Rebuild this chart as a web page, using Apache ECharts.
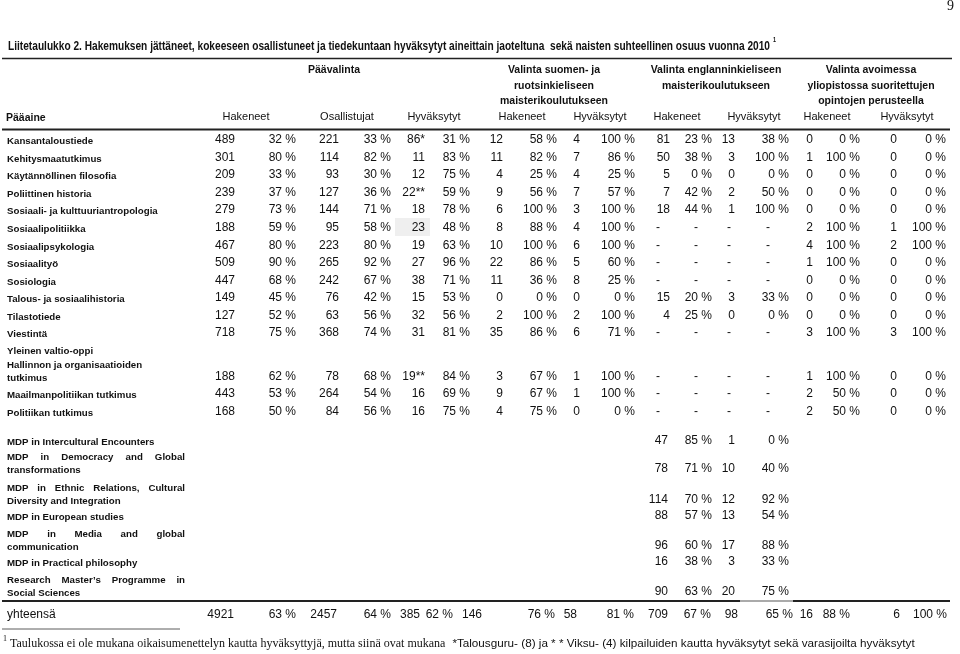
<!DOCTYPE html>
<html><head><meta charset="utf-8">
<script src="https://cdn.jsdelivr.net/npm/echarts/dist/echarts.min.js"></script>
<style>html,body{margin:0;padding:0;background:#fff}#c{width:960px;height:654px}</style>
</head><body><div id="c"></div>
<script>
// ---------------- DATA ----------------
const pageNumber = '9';
const titleText = 'Liitetaulukko 2. Hakemuksen jättäneet, kokeeseen osallistuneet ja tiedekuntaan hyväksytyt aineittain jaoteltuna  sekä naisten suhteellinen osuus vuonna 2010';
const groupHeaders = [['Päävalinta'], ['Valinta suomen- ja', 'ruotsinkieliseen', 'maisterikoulutukseen'], ['Valinta englanninkieliseen', 'maisterikoulutukseen'], ['Valinta avoimessa', 'yliopistossa suoritettujen', 'opintojen perusteella']];
const firstColHeader = 'Pääaine';
const colHeaders = ['Hakeneet', 'Osallistujat', 'Hyväksytyt', 'Hakeneet', 'Hyväksytyt', 'Hakeneet', 'Hyväksytyt', 'Hakeneet', 'Hyväksytyt'];

const subjects = ['Kansantaloustiede', 'Kehitysmaatutkimus', 'Käytännöllinen filosofia', 'Poliittinen historia', 'Sosiaali- ja kulttuuriantropologia', 'Sosiaalipolitiikka', 'Sosiaalipsykologia', 'Sosiaalityö', 'Sosiologia', 'Talous- ja sosiaalihistoria', 'Tilastotiede', 'Viestintä', 'Yleinen valtio-oppi\nHallinnon ja organisaatioiden\ntutkimus', 'Maailmanpolitiikan tutkimus', 'Politiikan tutkimus'];
const paaHak      = ['489','301','209','239','279','188','467','509','447','149','127','718','188','443','168'];
const paaHakPct   = [32,80,33,37,73,59,80,90,68,45,52,75,62,53,50];
const paaOsal     = ['221','114','93','127','144','95','223','265','242','76','63','368','78','264','84'];
const paaOsalPct  = [33,82,30,36,71,58,80,92,67,42,56,74,68,54,56];
const paaHyv      = ['86*','11','12','22**','18','23','19','27','38','15','32','31','19**','16','16'];
const paaHyvPct   = [31,83,75,59,78,48,63,96,71,53,56,81,84,69,75];
const suomiHak    = ['12','11','4','9','6','8','10','22','11','0','2','35','3','9','4'];
const suomiHakPct = [58,82,25,56,100,88,100,86,36,0,100,86,67,67,75];
const suomiHyv    = ['4','7','4','7','3','4','6','5','8','0','2','6','1','1','0'];
const suomiHyvPct = [100,86,25,57,100,100,100,60,25,0,100,71,100,100,0];
const englHak     = ['81','50','5','7','18',null,null,null,null,'15','4',null,null,null,null];
const englHakPct  = [23,38,0,42,44,null,null,null,null,20,25,null,null,null,null];
const englHyv     = ['13','3','0','2','1',null,null,null,null,'3','0',null,null,null,null];
const englHyvPct  = [38,100,0,50,100,null,null,null,null,33,0,null,null,null,null];
const avoinHak    = ['0','1','0','0','0','2','4','1','0','0','0','3','1','2','2'];
const avoinHakPct = [0,100,0,0,0,100,100,100,0,0,0,100,100,50,50];
const avoinHyv    = ['0','0','0','0','0','1','2','0','0','0','0','3','0','0','0'];
const avoinHyvPct = [0,0,0,0,0,100,100,0,0,0,0,100,0,0,0];

const mdpPrograms = ['MDP in Intercultural Encounters', 'MDP in Democracy and Global\ntransformations', 'MDP in Ethnic Relations, Cultural\nDiversity and Integration', 'MDP in European studies', 'MDP in Media and global\ncommunication', 'MDP in Practical philosophy', 'Research Master\u2019s Programme in\nSocial Sciences'];
const mdpHak    = ['47','78','114','88','96','16','90'];
const mdpHakPct = [85,71,70,57,60,38,63];
const mdpHyv    = ['1','10','12','13','17','3','20'];
const mdpHyvPct = [0,40,92,54,88,33,75];

const totalLabel = 'yhteensä';
const totalN   = ['4921','2457','385','146','58','709','98','16','6'];
const totalPct = [63,64,62,76,81,67,65,88,100];

const footnoteSerif = 'Taulukossa ei ole mukana oikaisumenettelyn kautta hyväksyttyjä, mutta siinä ovat mukana ';
const footnoteSans = '*Talousguru- (8) ja * * Viksu- (4) kilpailuiden kautta hyväksytyt sekä varasijoilta hyväksytyt';

// ---------------- LAYOUT ----------------
const SANS = '"Liberation Sans", Arial, Helvetica, sans-serif';
const SERIF = '"Liberation Serif", "Times New Roman", serif';
const fLabel = 'bold 9.7px ' + SANS;
const fNum = '12px ' + SANS;
const fHead = '11px ' + SANS;
const fGroup = 'bold 10.5px ' + SANS;

const colRight = [235,296,339,391,425,470,503,557,580,635,670,712,735,789,813,860,897,946];
const dashX = {10:658, 11:696, 12:729, 13:768};
const totRight = [234,296,337,391,420,453,482,555,577,634,668,711,738,793,813,850,900,947];
const rowValY = [140,158,175,193,210,228,246,263,281,298,316,333,377,394,412];
const mdpValY = [441,469,500,516,546,562,592];
const groupCX = [334,554,716,871];
const groupY = [70,86,101];
const colHeadCX = [246,347,434,522,600,677,754,827,907];
const LABEL_X = 7, JUSTIFY_R = 185;
const TITLE_X = 8, TITLE_R = 770;
const TOTAL_Y = 615, FOOT_Y = 644;

const ctx = document.createElement('canvas').getContext('2d');
function measure(font, t){ ctx.font = font; return ctx.measureText(t).width; }

const cells = [];
function T(x, y, text, font, align, extra){ cells.push(Object.assign({x, y, text, font, align: align || 'left'}, extra || {})); }

// page number & title (condensed via horizontal scale)
T(954, 6, pageNumber, '14px ' + SERIF, 'right');
const fTitle = 'bold 13px ' + SANS;
const titleScale = (TITLE_R - TITLE_X) / measure(fTitle, titleText);
T(TITLE_X, 46, titleText, fTitle, 'left', {scaleX: titleScale});
T(TITLE_R + 3, 40, '1', 'bold 7px ' + SANS, 'left', {scaleX: titleScale});

// headers
groupHeaders.forEach((g, i) => g.forEach((line, j) => T(groupCX[i], groupY[j], line, fGroup, 'center')));
T(6, 118, firstColHeader, fGroup);
colHeaders.forEach((h, i) => T(colHeadCX[i], 117, h, fHead, 'center'));

// main rows
const mainCols = [paaHak, paaHakPct, paaOsal, paaOsalPct, paaHyv, paaHyvPct, suomiHak, suomiHakPct, suomiHyv, suomiHyvPct, englHak, englHakPct, englHyv, englHyvPct, avoinHak, avoinHakPct, avoinHyv, avoinHyvPct];
function labelLines(label, lastY, justifyLines){
  const lines = label.split('\n');
  lines.forEach((ln, k) => {
    const y = lastY - (lines.length - 1 - k) * 13.5;
    if (justifyLines && k < lines.length - 1) {
      const words = ln.split(' ');
      const widths = words.map(w => measure(fLabel, w));
      const gap = (JUSTIFY_R - LABEL_X - widths.reduce((a, b) => a + b, 0)) / (words.length - 1);
      let x = LABEL_X;
      words.forEach((w, m) => { T(x, y, w, fLabel); x += widths[m] + gap; });
    } else T(LABEL_X, y, ln, fLabel);
  });
}
subjects.forEach((s, r) => {
  const vy = rowValY[r];
  labelLines(s, vy + 1.5, false);
  mainCols.forEach((col, c) => {
    const v = col[r];
    if (v === null) { T(dashX[c], vy, '-', fNum, 'center'); return; }
    T(colRight[c], vy, (c % 2) ? v + ' %' : v, fNum, 'right');
  });
});

// MDP rows
const mdpCols = [mdpHak, mdpHakPct, mdpHyv, mdpHyvPct];
mdpPrograms.forEach((p, r) => {
  const vy = mdpValY[r];
  labelLines(p, vy + 1.5, true);
  mdpCols.forEach((col, k) => {
    const c = 10 + k;
    T(k === 0 ? 668 : colRight[c], vy, (k % 2) ? col[r] + ' %' : col[r], fNum, 'right');
  });
});

// totals
T(7, TOTAL_Y, totalLabel, fNum);
totalN.forEach((v, i) => {
  T(totRight[2 * i], TOTAL_Y, v, fNum, 'right');
  T(totRight[2 * i + 1], TOTAL_Y, totalPct[i] + ' %', fNum, 'right');
});

// footnote
T(3, FOOT_Y - 5, '1', '8px ' + SERIF);
const fFootSerif = '12px ' + SERIF;
const serifEnd = 10 + measure(fFootSerif, footnoteSerif);
T(10, FOOT_Y, footnoteSerif, fFootSerif);
T(serifEnd + 4, FOOT_Y, footnoteSans, '11.7px ' + SANS);

// rules: [x1, x2, y, width, color]
const rules = [
  [2, 952, 58.5, 1.6, '#222'],
  [2, 950, 129.5, 1.8, '#222'],
  [2, 950, 601, 1.8, '#222'],
  [740, 793, 601, 1.8, '#aaa'],
  [2, 180, 629, 0.8, '#333']
];
const shades = [[395, 218, 430, 236]];

// ---------------- CHART ----------------
const chart = echarts.init(document.getElementById('c'), null, {renderer: 'canvas'});
chart.setOption({
  animation: false,
  backgroundColor: '#fff',
  grid: {left: 0, right: 0, top: 0, bottom: 0},
  xAxis: {type: 'value', min: 0, max: 960, show: false},
  yAxis: {type: 'value', min: 0, max: 654, inverse: true, show: false},
  series: [
    {
      type: 'custom', coordinateSystem: 'cartesian2d', silent: true,
      data: shades,
      renderItem: (p, api) => {
        const a = api.coord([api.value(0), api.value(1)]);
        const b = api.coord([api.value(2), api.value(3)]);
        return {type: 'rect', shape: {x: a[0], y: a[1], width: b[0] - a[0], height: b[1] - a[1]}, style: {fill: '#efefef'}};
      }
    },
    {
      type: 'custom', coordinateSystem: 'cartesian2d', silent: true,
      data: rules.map(r => [r[0], r[1], r[2]]),
      renderItem: (p, api) => {
        const a = api.coord([api.value(0), api.value(2)]);
        const b = api.coord([api.value(1), api.value(2)]);
        const r = rules[p.dataIndex];
        return {type: 'line', shape: {x1: a[0], y1: a[1], x2: b[0], y2: b[1]}, style: {stroke: r[4], lineWidth: r[3]}};
      }
    },
    {
      type: 'custom', coordinateSystem: 'cartesian2d', silent: true,
      data: cells.map(c => [c.x, c.y]),
      renderItem: (p, api) => {
        const c = cells[p.dataIndex];
        const pt = api.coord([api.value(0), api.value(1)]);
        return {type: 'text', x: pt[0], y: pt[1], scaleX: c.scaleX || 1, style: {text: c.text, font: c.font, fill: '#111', align: c.align, verticalAlign: 'middle'}};
      }
    }
  ]
});
</script></body></html>
